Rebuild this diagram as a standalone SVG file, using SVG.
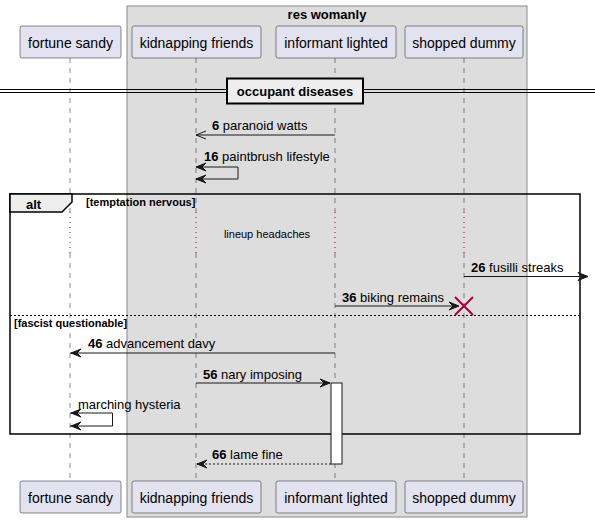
<svg xmlns="http://www.w3.org/2000/svg" width="595" height="522" viewBox="0 0 595 522">
<style>
text{font-family:"Liberation Sans",Arial,sans-serif;fill:#000}
.p rect{fill:#E2E2F0;stroke:#181818;stroke-width:0.5}
.p text{font-size:14px;text-anchor:middle}
.ll{stroke:#181818;stroke-width:0.5;stroke-dasharray:5,5;fill:none}
.dl{stroke:#A80036;stroke-width:1;stroke-dasharray:1,4;fill:none}
.m{font-size:13px}
.b{font-weight:bold}
.ln{stroke:#181818;stroke-width:1;fill:none}
.ah{fill:#181818;stroke:#181818;stroke-width:1}
</style>
<defs>
<polygon id="al" points="0,0 10,-4 6,0 10,4"/>
<polygon id="ar" points="0,0 -10,-4 -6,0 -10,4"/>
</defs>
<g id="box-res-womanly">
<rect x="127" y="6" width="400" height="511" fill="#DDDDDD" stroke="#888" stroke-width="1"/>
<text x="327" y="19" class="b" font-size="13" text-anchor="middle">res womanly</text>
</g>
<g id="lifelines">
<line class="ll" x1="70" y1="58" x2="70" y2="212"/>
<line class="ll" x1="70" y1="253" x2="70" y2="481"/>
<line class="dl" x1="70" y1="212" x2="70" y2="253"/>
<line class="ll" x1="196" y1="58" x2="196" y2="212"/>
<line class="ll" x1="196" y1="253" x2="196" y2="481"/>
<line class="dl" x1="196" y1="212" x2="196" y2="253"/>
<line class="ll" x1="335" y1="58" x2="335" y2="212"/>
<line class="ll" x1="335" y1="253" x2="335" y2="481"/>
<line class="dl" x1="335" y1="212" x2="335" y2="253"/>
<line class="ll" x1="464" y1="58" x2="464" y2="212"/>
<line class="ll" x1="464" y1="253" x2="464" y2="481"/>
<line class="dl" x1="464" y1="212" x2="464" y2="253"/>
</g>
<g id="fortune-sandy" class="p">
<rect x="20" y="26" width="101" height="32" rx="2"/>
<text x="70.5" y="48">fortune sandy</text>
<rect x="20" y="481" width="101" height="32" rx="2"/>
<text x="70.5" y="503">fortune sandy</text>
</g>
<g id="kidnapping-friends" class="p">
<rect x="132" y="26" width="129" height="32" rx="2"/>
<text x="196.5" y="48">kidnapping friends</text>
<rect x="132" y="481" width="129" height="32" rx="2"/>
<text x="196.5" y="503">kidnapping friends</text>
</g>
<g id="informant-lighted" class="p">
<rect x="276" y="26" width="120" height="32" rx="2"/>
<text x="336" y="48">informant lighted</text>
<rect x="276" y="481" width="120" height="32" rx="2"/>
<text x="336" y="503">informant lighted</text>
</g>
<g id="shopped-dummy" class="p">
<rect x="405" y="26" width="118" height="32" rx="2"/>
<text x="464" y="48">shopped dummy</text>
<rect x="405" y="481" width="118" height="32" rx="2"/>
<text x="464" y="503">shopped dummy</text>
</g>
<g id="divider">
<line x1="0" y1="89.5" x2="595" y2="89.5" stroke="#000" stroke-width="1"/>
<line x1="0" y1="92.5" x2="595" y2="92.5" stroke="#000" stroke-width="1"/>
<rect x="227" y="78.5" width="136" height="25" fill="#EEEEEE" stroke="#000" stroke-width="2"/>
<text x="295" y="96" class="b" font-size="13" text-anchor="middle">occupant diseases</text>
</g>
<g id="alt-frame">
<rect x="10" y="194" width="570" height="240" fill="none" stroke="#000" stroke-width="1.5"/>
<path d="M10,194 L72,194 L72,202 L62,212 L10,212 Z" fill="#EEEEEE" stroke="#000" stroke-width="1.5"/>
<text x="26" y="208.5" class="b" font-size="13">alt</text>
<text x="86" y="206" class="b" font-size="11">[temptation nervous]</text>
<line x1="10" y1="315.5" x2="580" y2="315.5" stroke="#000" stroke-width="1" stroke-dasharray="2,2"/>
<text x="14" y="327" class="b" font-size="11">[fascist questionable]</text>
<text x="267" y="238" font-size="11" text-anchor="middle">lineup headaches</text>
</g>
<g id="activation">
<rect x="331" y="383" width="11" height="81" fill="#FFFFFF" stroke="#181818" stroke-width="1"/>
</g>
<g id="connectors">
<line class="ln" x1="196" y1="135" x2="335" y2="135"/>
<polyline class="ln" points="206,131 196,135 206,139"/>
<text x="212" y="130" class="m"><tspan class="b">6</tspan> paranoid watts</text>

<polyline class="ln" points="196,167 238,167 238,179 196,179"/>
<use href="#al" x="196" y="167" class="ah"/>
<use href="#al" x="196" y="179" class="ah"/>
<text x="204" y="161" class="m"><tspan class="b">16</tspan> paintbrush lifestyle</text>

<line class="ln" x1="464" y1="276.5" x2="587" y2="276.5"/>
<use href="#ar" x="588" y="276.5" class="ah"/>
<text x="471" y="272" class="m"><tspan class="b">26</tspan> fusilli streaks</text>

<line class="ln" x1="335" y1="306" x2="458" y2="306"/>
<use href="#ar" x="459" y="306" class="ah"/>
<path d="M455,297 L473,315 M473,297 L455,315" stroke="#A80036" stroke-width="2" fill="none"/>
<text x="342" y="302" class="m"><tspan class="b">36</tspan> biking remains</text>

<line class="ln" x1="70" y1="353" x2="335" y2="353"/>
<use href="#al" x="71" y="353" class="ah"/>
<text x="88" y="348" class="m"><tspan class="b">46</tspan> advancement davy</text>

<line class="ln" x1="196" y1="383" x2="330" y2="383"/>
<use href="#ar" x="330" y="383" class="ah"/>
<text x="203" y="379" class="m"><tspan class="b">56</tspan> nary imposing</text>

<polyline class="ln" points="70,413 112.5,413 112.5,426 70,426"/>
<use href="#al" x="71" y="413" class="ah"/>
<use href="#al" x="71" y="426" class="ah"/>
<text x="78" y="409" class="m">marching hysteria</text>

<line class="ln" x1="197" y1="464" x2="331" y2="464" stroke-dasharray="2,2"/>
<use href="#al" x="197" y="464" class="ah"/>
<text x="212" y="459" class="m"><tspan class="b">66</tspan> lame fine</text>
</g>
</svg>
